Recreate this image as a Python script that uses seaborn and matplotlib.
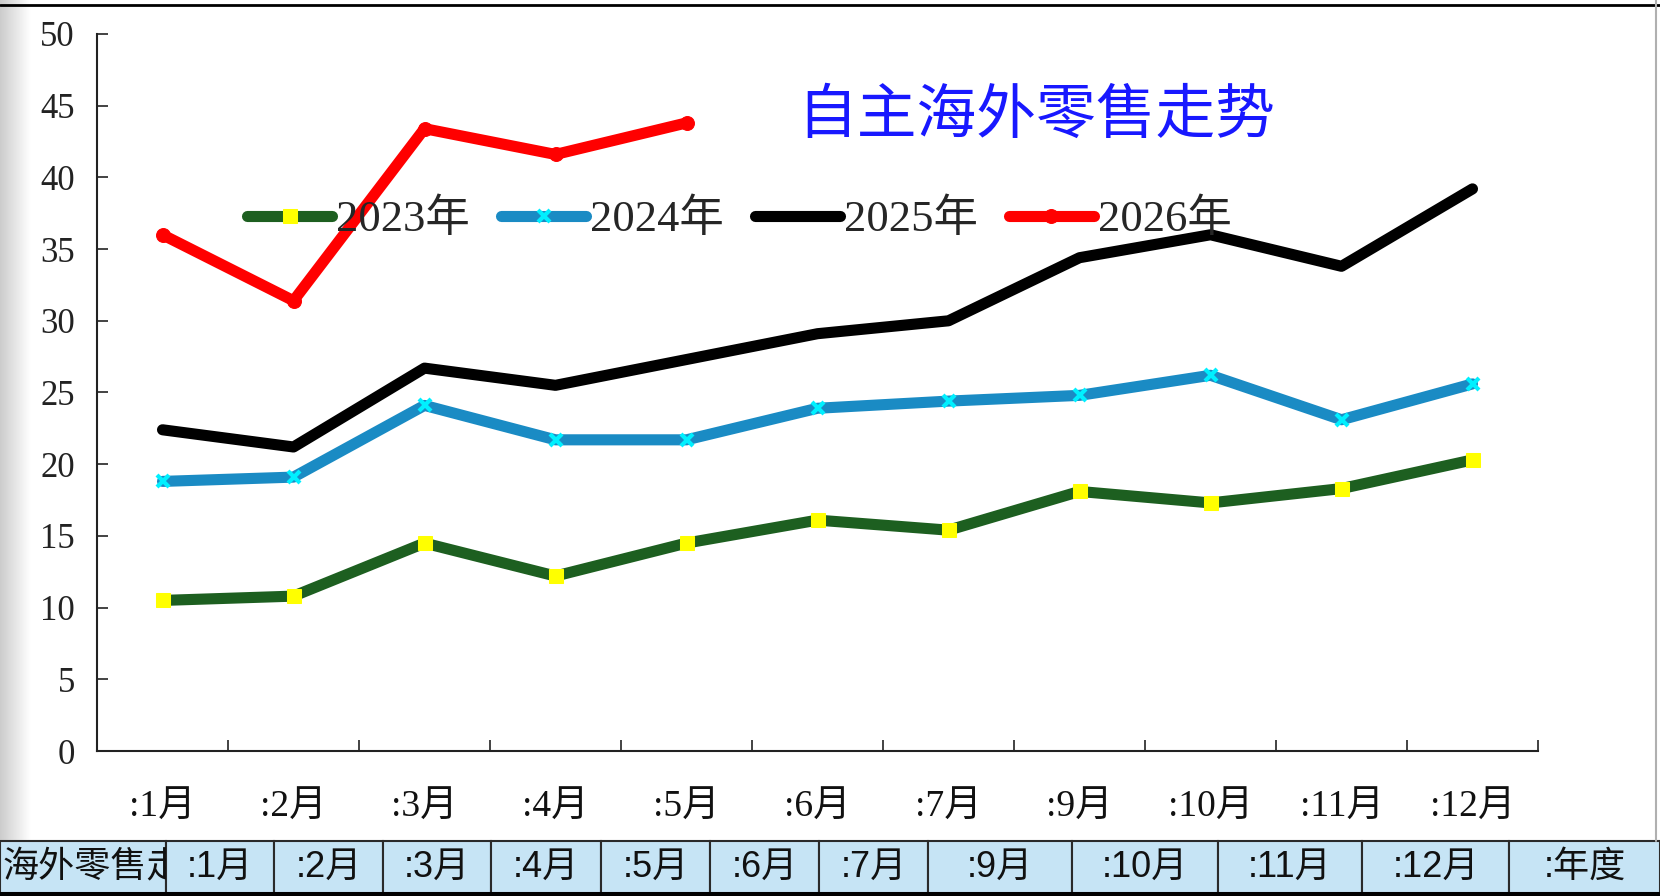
import numpy as np
import pandas as pd
import matplotlib.pyplot as plt
import matplotlib.patches as mpatches
import seaborn as sns

sns.set_theme(style="white")
plt.rcParams['font.family'] = ['Liberation Serif', 'Noto Sans CJK SC', 'DejaVu Sans']

# data
months = [":1月", ":2月", ":3月", ":4月", ":5月", ":6月", ":7月", ":9月", ":10月", ":11月", ":12月"]
y2023 = [10.5, 10.8, 14.5, 12.2, 14.5, 16.1, 15.4, 18.1, 17.3, 18.3, 20.3]
y2024 = [18.8, 19.1, 24.1, 21.7, 21.7, 23.9, 24.4, 24.8, 26.2, 23.1, 25.6]
y2025 = [22.4, 21.2, 26.7, 25.5, 27.3, 29.1, 30.0, 34.4, 36.0, 33.8, 39.2]
y2026 = [36.0, 31.4, 43.4, 41.6, 43.8]

title = "自主海外零售走势"
table_labels = ["海外零售走势", ":1月", ":2月", ":3月", ":4月", ":5月", ":6月", ":7月",
                ":9月", ":10月", ":11月", ":12月", ":年度"]
table_edges = [0, 166, 274, 383, 491, 601, 710, 819, 928, 1072, 1218, 1362, 1509, 1660]

W, H = 1660, 896
fig = plt.figure(figsize=(W / 100, H / 100), dpi=100)
fig.patch.set_facecolor("white")

# background / decoration layer in pixel units
bg = fig.add_axes([0, 0, 1, 1], zorder=-1)
bg.set_xlim(0, W)
bg.set_ylim(H, 0)
bg.axis("off")
grad = np.linspace(0.80, 1.0, 64)[None, :]
bg.imshow(grad, cmap="gray", vmin=0, vmax=1, aspect="auto", extent=(0, 30, 841, 0))
bg.axhline(5, color="black", lw=2)
bg.axvline(1656, ymin=(H - 841) / H, color="#b0b0b0", lw=1.5)

# bottom label strip
sans = ["Liberation Sans", "Noto Sans CJK SC"]
for i, lab in enumerate(table_labels):
    x0, x1 = table_edges[i], table_edges[i + 1]
    cell = mpatches.Rectangle((x0, 841), x1 - x0, 52, facecolor="#c6e4f5",
                              edgecolor="#2a2a2a", lw=1.5)
    bg.add_patch(cell)
    if i == 0:
        t = bg.text(x0 + 2, 867, lab, ha="left", va="center", fontsize=26,
                    family=sans, color="#111", clip_on=True)
        t.set_clip_path(cell)
    else:
        bg.text((x0 + x1) / 2, 867, lab, ha="center", va="center", fontsize=26,
                family=sans, color="#111")
bg.add_patch(mpatches.Rectangle((0, 892), W, 4, facecolor="black", edgecolor="none"))

# main chart
ax = fig.add_axes([97 / W, (H - 751) / H, (1538 - 97) / W, (751 - 34) / H])
ax.set_facecolor("none")

x = np.arange(len(months))
lw = 8
sns.lineplot(x=x, y=y2023, ax=ax, color="#1d5f20", lw=lw, marker="s", ms=10,
             markerfacecolor="#ffff00", markeredgecolor="#ffff00",
             solid_capstyle="round", label="2023年")
sns.lineplot(x=x, y=y2024, ax=ax, color="#1a8bc4", lw=lw, marker="x", ms=9, mew=3,
             markeredgecolor="#00f0ff", solid_capstyle="round", label="2024年")
sns.lineplot(x=x, y=y2025, ax=ax, color="black", lw=lw,
             solid_capstyle="round", label="2025年")
sns.lineplot(x=x[:len(y2026)], y=y2026, ax=ax, color="#ff0000", lw=lw, marker="o", ms=10,
             markerfacecolor="#ff0000", markeredgecolor="#ff0000",
             solid_capstyle="round", label="2026年")

ax.set_xlim(-0.5, len(months) - 0.5)
ax.set_ylim(0, 50)
ax.set_yticks(np.arange(0, 51, 5))
ax.set_xticks(x)
ax.set_xticklabels(months)
ax.set_xticks(np.arange(-0.5, len(months)), minor=True)
ax.tick_params(axis="x", which="major", length=0, pad=28, labelsize=27, labelcolor="#111")
ax.tick_params(axis="x", which="minor", direction="in", length=8, width=1.2, color="#222")
ax.tick_params(axis="y", direction="in", length=8, width=1.2, color="#222", pad=16,
               labelsize=25, labelcolor="#222")
ax.tick_params(bottom=True, left=True, which="both")
for s in ["top", "right"]:
    ax.spines[s].set_visible(False)
for s in ["left", "bottom"]:
    ax.spines[s].set_color("#222")
    ax.spines[s].set_linewidth(1.5)
ax.set_xlabel("")
ax.set_ylabel("")

ax.text(0.652, 0.885, title, transform=ax.transAxes, ha="center", va="center",
        fontsize=43, color="#1818ff", family=["Noto Sans CJK SC"])

ax.legend(loc="center", bbox_to_anchor=(0.446, 0.741), ncol=4, frameon=False,
          fontsize=32, handlelength=1.9, handletextpad=0.1, columnspacing=0.7)

fig.savefig("out.png", dpi=100)
